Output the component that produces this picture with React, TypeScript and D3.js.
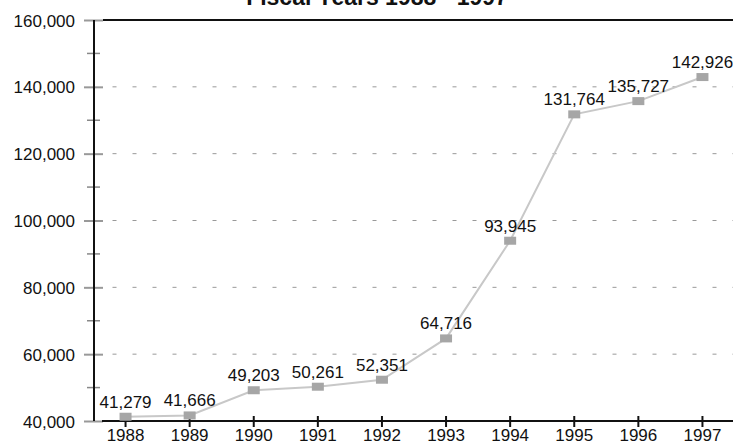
import React, { useEffect, useRef } from "react";
import { select, scaleLinear, scaleBand, axisBottom, axisLeft, line, format, range } from "d3";

const years = ["1988", "1989", "1990", "1991", "1992", "1993", "1994", "1995", "1996", "1997"];
const totals = [41279, 41666, 49203, 50261, 52351, 64716, 93945, 131764, 135727, 142926];
const yTicks = [40000, 60000, 80000, 100000, 120000, 140000, 160000];
const title = "Fiscal Years 1988 - 1997";

const W = 733;
const H = 447;
const FONT = "'Liberation Sans', Arial, sans-serif";

const App = () => {
  const svgRef = useRef<SVGSVGElement>(null);

  useEffect(() => {
    const svg = select(svgRef.current);
    svg.selectAll("*").remove();

    const x = scaleBand().domain(years).range([93.5, 734.5]);
    const y = scaleLinear().domain([40000, 160000]).range([421, 20]);
    const cx = (d: string) => (x(d) as number) + x.bandwidth() / 2;
    const fmt = format(",");

    // dashed grid
    svg
      .append("g")
      .selectAll("line")
      .data(yTicks.slice(1, -1))
      .join("line")
      .attr("x1", 112.5)
      .attr("x2", W)
      .attr("y1", (d) => y(d))
      .attr("y2", (d) => y(d))
      .attr("stroke", "#999")
      .attr("stroke-dasharray", "4,16");

    // minor ticks on y
    svg
      .append("g")
      .selectAll("line")
      .data(range(50000, 160000, 20000))
      .join("line")
      .attr("x1", 87)
      .attr("x2", 100)
      .attr("y1", (d) => y(d))
      .attr("y2", (d) => y(d))
      .attr("stroke", "#888")
      .attr("stroke-width", 1.5);

    // y axis
    const yAxis = axisLeft(y).tickValues(yTicks).tickFormat((d) => fmt(d as number)).tickSize(0).tickPadding(19);
    const gy = svg.append("g").attr("transform", "translate(94,0)").call(yAxis);
    gy.select(".domain").remove();
    gy.selectAll("text").style("font", `17px ${FONT}`).attr("fill", "#111").attr("dy", "0.36em");
    gy.selectAll(".tick")
      .append("line")
      .attr("x1", -10)
      .attr("x2", 9)
      .attr("stroke", "#999")
      .attr("stroke-width", 2);

    // frame lines
    svg.append("line").attr("x1", 94).attr("x2", 94).attr("y1", 20).attr("y2", 421)
      .attr("stroke", "#111").attr("stroke-width", 2);
    svg.append("line").attr("x1", 103).attr("x2", W).attr("y1", 20).attr("y2", 20)
      .attr("stroke", "#111").attr("stroke-width", 2);

    // x axis
    const xAxis = axisBottom(x).tickSizeOuter(0).tickSizeInner(0).tickPadding(8);
    const gx = svg.append("g").attr("transform", "translate(0,421)").call(xAxis);
    gx.select(".domain").remove();
    gx.append("line").attr("x1", 102).attr("x2", W).attr("stroke", "#111").attr("stroke-width", 2);
    gx.selectAll(".tick")
      .append("line")
      .attr("y1", -5)
      .attr("y2", 6)
      .attr("stroke", "#111")
      .attr("stroke-width", 2);
    gx.selectAll("text").style("font", `17px ${FONT}`).attr("fill", "#111");

    // series line
    const path = line<number>()
      .x((_, i) => cx(years[i]))
      .y((d) => y(d));
    svg
      .append("path")
      .datum(totals)
      .attr("d", path)
      .attr("fill", "none")
      .attr("stroke", "#c8c8c8")
      .attr("stroke-width", 2);

    // markers
    svg
      .selectAll(".pt")
      .data(totals)
      .join("rect")
      .attr("class", "pt")
      .attr("x", (_, i) => cx(years[i]) - 6)
      .attr("y", (d) => y(d) - 4)
      .attr("width", 12)
      .attr("height", 8)
      .attr("fill", "#a6a6a6");

    // value labels
    svg
      .selectAll(".lbl")
      .data(totals)
      .join("text")
      .attr("class", "lbl")
      .attr("x", (_, i) => cx(years[i]))
      .attr("y", (d) => y(d) - 9)
      .attr("text-anchor", "middle")
      .style("font", `17px ${FONT}`)
      .attr("fill", "#111")
      .text((d) => fmt(d));

    svg
      .append("text")
      .attr("x", 377)
      .attr("y", 5)
      .attr("text-anchor", "middle")
      .style("font", `bold 23px ${FONT}`)
      .attr("fill", "#111")
      .text(title);
  }, []);

  return (
    <svg
      ref={svgRef}
      width={W}
      height={H}
      style={{ position: "absolute", left: 0, top: 0, background: "#fff" }}
    />
  );
};

export default App;
